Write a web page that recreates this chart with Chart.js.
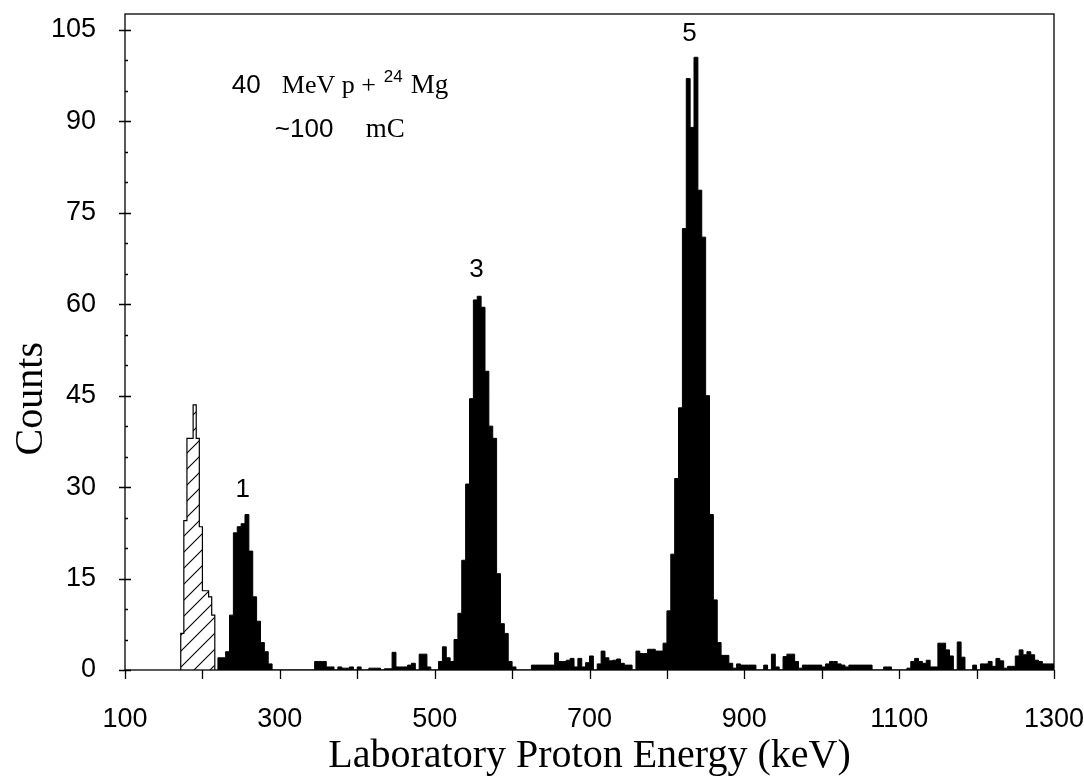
<!DOCTYPE html>
<html>
<head>
<meta charset="utf-8">
<script src="https://cdn.jsdelivr.net/npm/chart.js@4.4.0/dist/chart.umd.min.js"></script>
<style>
  body { margin: 0; background: #fff; }
</style>
</head>
<body>
<canvas id="spectrum" width="1084" height="776"></canvas>
<script>
// tick labels
const xTickLabels = [100, 300, 500, 700, 900, 1100, 1300];
const yTickLabels = [0, 15, 30, 45, 60, 75, 90, 105];

// hatched spectrum, 4 keV channels from 172 keV
const hatchStart = 172;
const hatchWidth = 4;
const hatchCounts = [6, 24.5, 38, 38, 43.5, 38, 23.5, 13, 13, 12, 9];

// filled spectrum, 5 keV channels from 220 keV
const specStart = 220;
const specWidth = 5;
const specCounts = [
    2, 2, 3, 9, 22.5, 23.5, 24, 25.5, 19.5, 12, 8, 4.5, 3, 1, 0, 0, 0, 0, 0, 0,          // 220-315
    0, 0, 0, 0, 0, 1.4, 1.4, 1.4, 0.5, 0.5, 0, 0.5, 0.3, 0.3, 0.5, 0, 0.5, 0, 0, 0.3,     // 320-415
    0.3, 0.3, 0, 0.2, 0.2, 2.9, 0.5, 0.5, 0.5, 0.8, 1.1, 0, 2.6, 2.6, 0.5, 0, 0, 1.4, 3.8, 2, // 420-515
    1.4, 5, 9.3, 18, 30.5, 44.5, 60.7, 61.3, 59.5, 49, 40, 38, 15.8, 7.6, 6, 1.4, 0.5, 0, 0, 0, // 520-615
    0, 0.8, 0.8, 0.8, 0.8, 0.8, 0.8, 2.8, 1.4, 1.4, 1.6, 1.9, 0.5, 1.9, 0.5, 1.2, 2.3, 0, 1, 3.1, // 620-715
    2, 1.5, 1.6, 1.8, 1.1, 0.8, 0.8, 0, 3.1, 2.7, 2.7, 3.4, 3.4, 3.1, 3.1, 4.4, 9.7, 19, 31.4, 43, // 720-815
    72.4, 97, 89, 100.5, 78.7, 71, 45, 25.5, 11.5, 4.5, 2.4, 2.4, 1.1, 0.3, 1, 0.8, 0.8, 0.8, 0.8, 0, // 820-915
    0, 0.8, 0, 2.6, 0.5, 0, 2.2, 2.6, 2.6, 1.4, 0.3, 0.8, 0.8, 0.8, 0.8, 0.8, 0.5, 1, 1.4, 1.4, // 920-1015
    1, 0.8, 0.5, 0.8, 0.8, 0.8, 0.8, 0.8, 0.8, 0, 0, 0, 0.5, 0.5, 0, 0, 0, 0, 0.3, 1.4,   // 1020-1115
    1.9, 1.4, 1.1, 1.6, 0.5, 0.5, 4.4, 4.4, 3.3, 2.3, 0, 4.6, 2.1, 0, 0, 0.8, 0, 1, 1, 1.4, // 1120-1215
    0.6, 1.9, 1.5, 0.3, 0.6, 0.6, 2.3, 3.3, 2.5, 3, 2.5, 1.6, 1.4, 1, 1, 1                // 1220-1295
];

// peak labels
const peakNames = ['1', '3', '5'];
const peakEnergy = [252, 554, 829];
const peakHeight = [29.5, 65.6, 104.3];

const SANS = '"Liberation Sans", Arial, sans-serif';
const SERIF = '"Liberation Serif", "Times New Roman", serif';

function histPoints(start, width, counts) {
    var pts = [{x: start, y: 0}];
    counts.forEach((c, i) => pts.push({x: start + i * width, y: c}));
    pts.push({x: start + counts.length * width, y: 0});
    return pts;
}

function makeHatch() {
    const s = 16;
    const c = document.createElement('canvas');
    c.width = s;
    c.height = s;
    const g = c.getContext('2d');
    g.strokeStyle = '#000';
    g.lineWidth = 1.1;
    g.beginPath();
    g.moveTo(-2, s + 2); g.lineTo(s + 2, -2);
    g.moveTo(-2, 2); g.lineTo(2, -2);
    g.moveTo(s - 2, s + 2); g.lineTo(s + 2, s - 2);
    g.stroke();
    return g.createPattern(c, 'repeat');
}

// frame box and tick marks
const frameTicks = {
    id: 'frameTicks',
    afterDraw(chart) {
        const ctx = chart.ctx;
        const a = chart.chartArea;
        const x = chart.scales.x;
        const y = chart.scales.y;
        ctx.save();
        ctx.strokeStyle = '#000';
        ctx.lineWidth = 1.3;
        ctx.strokeRect(a.left, a.top, a.right - a.left, a.bottom - a.top);
        ctx.beginPath();
        x.ticks.forEach(t => {
            const px = Math.round(x.getPixelForValue(t.value)) + 0.5;
            ctx.moveTo(px, a.bottom);
            ctx.lineTo(px, a.bottom + 9);
        });
        y.ticks.forEach(t => {
            if (t.value % 5 !== 0) return;
            const py = Math.round(y.getPixelForValue(t.value)) + 0.5;
            const major = yTickLabels.includes(t.value);
            ctx.moveTo(a.left - (major ? 6 : 0), py);
            ctx.lineTo(a.left + (major ? 6 : 3), py);
        });
        ctx.stroke();
        ctx.restore();
    }
};

// peak numbers, reaction text and the y title
const textMarks = {
    id: 'textMarks',
    afterDraw(chart) {
        const ctx = chart.ctx;
        const x = chart.scales.x;
        const y = chart.scales.y;
        ctx.save();
        ctx.fillStyle = '#000';
        ctx.textAlign = 'center';
        ctx.textBaseline = 'middle';
        ctx.font = '26px ' + SANS;
        peakNames.forEach((t, i) => {
            ctx.fillText(t, x.getPixelForValue(peakEnergy[i]), y.getPixelForValue(peakHeight[i]));
        });

        ctx.textAlign = 'left';
        ctx.textBaseline = 'alphabetic';
        const x0 = x.getPixelForValue(238);
        const y1 = y.getPixelForValue(94.6);
        const y2 = y.getPixelForValue(87.4);
        ctx.font = '26px ' + SANS;
        ctx.fillText('40', x0, y1);
        ctx.font = '26px ' + SERIF;
        ctx.fillText('MeV p +', x0 + 50, y1);
        ctx.font = '17px ' + SANS;
        ctx.fillText('24', x0 + 152, y1 - 11);
        ctx.font = '27px ' + SERIF;
        ctx.fillText('Mg', x0 + 179, y1);
        ctx.font = '26px ' + SANS;
        ctx.fillText('~100', x0 + 43, y2);
        ctx.font = '27px ' + SERIF;
        ctx.fillText('mC', x0 + 134, y2);

        ctx.translate(31, y.getPixelForValue(44.5));
        ctx.rotate(-Math.PI / 2);
        ctx.textAlign = 'center';
        ctx.textBaseline = 'middle';
        ctx.font = '40px ' + SERIF;
        ctx.fillText('Counts', 0, 0);
        ctx.restore();
    }
};

new Chart(document.getElementById('spectrum'), {
    type: 'line',
    data: {
        datasets: [{
            data: histPoints(hatchStart, hatchWidth, hatchCounts),
            stepped: 'before',
            fill: 'origin',
            backgroundColor: makeHatch(),
            borderColor: '#000',
            borderWidth: 1.2,
            pointRadius: 0
        }, {
            data: histPoints(specStart, specWidth, specCounts),
            stepped: 'before',
            fill: 'origin',
            backgroundColor: '#000',
            borderColor: '#000',
            borderWidth: 1,
            pointRadius: 0
        }]
    },
    options: {
        responsive: false,
        animation: false,
        events: [],
        layout: { padding: { top: 14, right: 30, left: 0, bottom: 0 } },
        plugins: {
            legend: { display: false },
            tooltip: { enabled: false }
        },
        scales: {
            x: {
                type: 'linear',
                min: 100,
                max: 1300,
                grid: { display: false, drawTicks: false },
                border: { display: false },
                ticks: {
                    stepSize: 100,
                    autoSkip: false,
                    maxRotation: 0,
                    padding: 36,
                    color: '#000',
                    font: { family: SANS, size: 27, lineHeight: 1 },
                    callback: v => xTickLabels.includes(v) ? String(v) : ''
                },
                title: {
                    display: true,
                    text: 'Laboratory Proton Energy (keV)',
                    color: '#000',
                    padding: 0,
                    font: { family: SERIF, size: 40, lineHeight: 1 }
                },
                afterFit: s => { s.height = 106; s.paddingLeft = 0; s.paddingRight = 0; }
            },
            y: {
                min: 0,
                max: 107.6,
                grid: { display: false, drawTicks: false },
                border: { display: false },
                ticks: {
                    stepSize: 5,
                    includeBounds: false,
                    autoSkip: false,
                    padding: 29,
                    color: '#000',
                    font: { family: SANS, size: 27, lineHeight: 1 },
                    callback: v => yTickLabels.includes(v) ? String(v) : ''
                },
                afterFit: s => { s.width = 125; s.paddingTop = 0; s.paddingBottom = 0; }
            }
        }
    },
    plugins: [frameTicks, textMarks]
});
</script>
</body>
</html>
